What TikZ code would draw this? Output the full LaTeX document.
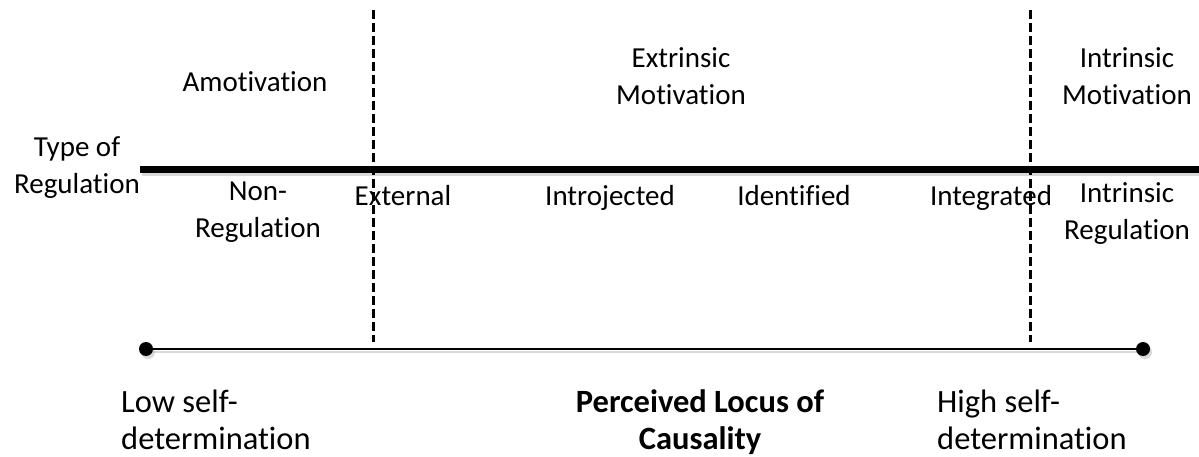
\documentclass[tikz,border=0pt]{standalone}
\usepackage{fontspec}
\setmainfont{Carlito}[Ligatures=CommonOff]
\begin{document}
\begin{tikzpicture}[x=1pt,y=-1pt,
  lbl/.style={inner sep=0pt, align=center, anchor=base, font=\fontsize{29}{37}\selectfont},
  lowlbl/.style={inner sep=0pt, align=left, anchor=base west, font=\fontsize{32.5}{37}\selectfont},
  divider/.style={line width=3pt, dash pattern=on 9pt off 4pt},
  shadowline/.style={black!25, opacity=0.6},
  dot/.style={circle, fill=black, inner sep=0pt, minimum size=14pt}]
\useasboundingbox (0,0) rectangle (1199,457);

% axis of regulation types
\coordinate (axL) at (140,170);
\coordinate (axR) at (1199,170);
\draw[shadowline, line width=7pt] ([shift={(2,3)}]axL) -- ([shift={(2,3)}]axR);
\draw[line width=7pt] (axL) -- (axR);

% self-determination continuum
\node[dot, black!25, opacity=0.6] at (148,352) {};
\node[dot, black!25, opacity=0.6] at (1145,352) {};
\draw[shadowline, line width=2.5pt] (148,352) -- (1145,352);
\node[dot] (low) at (146,349) {};
\node[dot] (high) at (1143,349) {};
\draw[line width=2.5pt] (low) -- (high);

% dashed dividers
\coordinate (d1t) at (373,10);
\coordinate (d1b) at (373,342);
\coordinate (d2t) at (1030,10);
\coordinate (d2b) at (1030,342);
\draw[divider] (d1t) -- (d1b);
\draw[divider] (d2t) -- (d2b);

% motivation types (multi-line labels are placed by their last baseline)
\node[lbl] (amot) at (255,92) {Amotivation};
\node[lbl] (extr) at (681,105) {Extrinsic\\Motivation};
\node[lbl] (intr) at (1127,105) {Intrinsic\\Motivation};

% regulation styles
\node[lbl] (type) at (77,194) {Type of\\Regulation};
\node[lbl] (nonreg) at (258,237) {Non-\\Regulation};
\node[lbl] (ext) at (403,206) {External};
\node[lbl] (introj) at (610,206) {Introjected};
\node[lbl] (ident) at (794,206) {Identified};
\node[lbl] (integ) at (991,206) {Integrated};
\node[lbl] (intreg) at (1127,240) {Intrinsic\\Regulation};

% continuum labels
\node[lowlbl] (lowsd) at (121,449) {Low self-\\determination};
\node[lowlbl] (highsd) at (937,449) {High self-\\determination};
\node[inner sep=0pt, align=center, anchor=base, font=\fontsize{32.5}{37}\selectfont\bfseries] (plc) at (700,449) {Perceived Locus of\\Causality};
\end{tikzpicture}
\end{document}
